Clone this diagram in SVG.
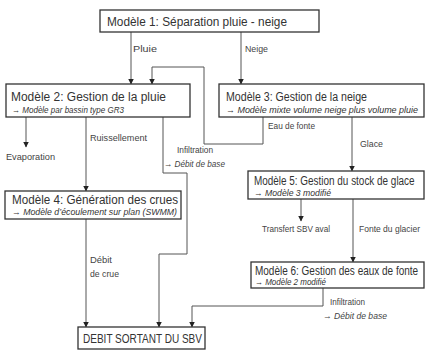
<svg xmlns="http://www.w3.org/2000/svg" width="426" height="352" viewBox="0 0 426 352">
<defs>
<style>
.box{fill:#fff;stroke:#333;stroke-width:1.3}
.t{font-family:"Liberation Sans",Arial,sans-serif;font-size:12.5px;fill:#333}
.s{font-family:"Liberation Sans",Arial,sans-serif;font-size:9px;font-style:italic;fill:#333}
.l{font-family:"Liberation Sans",Arial,sans-serif;font-size:9.5px;fill:#444}
.li{font-family:"Liberation Sans",Arial,sans-serif;font-size:9.5px;font-style:italic;fill:#444}
.c{fill:none;stroke:#555;stroke-width:1}
</style>
<marker id="a" markerUnits="userSpaceOnUse" markerWidth="6" markerHeight="6" refX="5.5" refY="3" orient="auto">
<path d="M0,0 L6,3 L0,6 z" fill="#222"/>
</marker>
</defs>
<rect width="426" height="352" fill="#fff"/>
<g id="connectors">
<path class="c" d="M131,32 V84" marker-end="url(#a)"/>
<path class="c" d="M241,32 V84" marker-end="url(#a)"/>
<path class="c" d="M26,117 V147" marker-end="url(#a)"/>
<path class="c" d="M86,117 V191" marker-end="url(#a)"/>
<path class="c" d="M163,117 V173 H187 V254 H159 V327" marker-end="url(#a)"/>
<path class="c" d="M263,117 V144 H204 V67 H152 V84" marker-end="url(#a)"/>
<path class="c" d="M352,117 V171" marker-end="url(#a)"/>
<path class="c" d="M301,199 V221" marker-end="url(#a)"/>
<path class="c" d="M353,199 V262" marker-end="url(#a)"/>
<path class="c" d="M323,288 V306 H192 V327" marker-end="url(#a)"/>
<path class="c" d="M86,219 V327" marker-end="url(#a)"/>
<text class="l" x="133" y="52" textLength="24" lengthAdjust="spacingAndGlyphs">Pluie</text>
<text class="l" x="245" y="52" textLength="23" lengthAdjust="spacingAndGlyphs">Neige</text>
<text class="l" x="6" y="160" textLength="49" lengthAdjust="spacingAndGlyphs">Evaporation</text>
<text class="l" x="90" y="141" textLength="57" lengthAdjust="spacingAndGlyphs">Ruissellement</text>
<text class="l" x="177" y="153" textLength="36" lengthAdjust="spacingAndGlyphs">Infiltration</text>
<text class="li" x="164" y="167" textLength="61" lengthAdjust="spacingAndGlyphs">→ Débit de base</text>
<text class="l" x="268" y="129" textLength="47" lengthAdjust="spacingAndGlyphs">Eau de fonte</text>
<text class="l" x="360" y="147" textLength="23" lengthAdjust="spacingAndGlyphs">Glace</text>
<text class="l" x="262" y="232" textLength="68" lengthAdjust="spacingAndGlyphs">Transfert SBV aval</text>
<text class="l" x="359" y="232" textLength="61" lengthAdjust="spacingAndGlyphs">Fonte du glacier</text>
<text class="l" x="330" y="305" textLength="35" lengthAdjust="spacingAndGlyphs">Infiltration</text>
<text class="li" x="323" y="319" textLength="64" lengthAdjust="spacingAndGlyphs">→ Débit de base</text>
<text class="l" x="90" y="263" textLength="22" lengthAdjust="spacingAndGlyphs">Débit</text>
<text class="l" x="90" y="277" textLength="29" lengthAdjust="spacingAndGlyphs">de crue</text>
</g>
<g id="m1">
<rect class="box" x="100" y="10" width="219" height="22"/>
<text class="t" x="107" y="26" textLength="180" lengthAdjust="spacingAndGlyphs">Modèle 1: Séparation pluie - neige</text>
</g>
<g id="m2">
<rect class="box" x="6" y="84" width="184" height="33"/>
<text class="t" x="11" y="101" textLength="155" lengthAdjust="spacingAndGlyphs">Modèle 2: Gestion de la pluie</text>
<text class="s" x="12" y="113" textLength="112" lengthAdjust="spacingAndGlyphs">→ Modèle par bassin type GR3</text>
</g>
<g id="m3">
<rect class="box" x="219" y="84" width="205" height="33"/>
<text class="t" x="226" y="101" textLength="141" lengthAdjust="spacingAndGlyphs">Modèle 3: Gestion de la neige</text>
<text class="s" x="226" y="113" textLength="192" lengthAdjust="spacingAndGlyphs">→ Modèle mixte volume neige plus volume pluie</text>
</g>
<g id="m4">
<rect class="box" x="5" y="191" width="176" height="28"/>
<text class="t" x="12" y="204" textLength="166" lengthAdjust="spacingAndGlyphs">Modèle 4: Génération des crues</text>
<text class="s" x="12" y="215" textLength="165" lengthAdjust="spacingAndGlyphs">→ Modèle d’écoulement sur plan (SWMM)</text>
</g>
<g id="m5">
<rect class="box" x="248" y="171" width="176" height="28"/>
<text class="t" transform="translate(254,185) scale(0.795,1)">Modèle 5: Gestion du stock de glace</text>
<text class="s" x="254" y="196" textLength="77" lengthAdjust="spacingAndGlyphs">→ Modèle 3 modifié</text>
</g>
<g id="m6">
<rect class="box" x="251" y="262" width="173" height="26"/>
<text class="t" transform="translate(255,275) scale(0.8,1)">Modèle 6: Gestion des eaux de fonte</text>
<text class="s" x="255" y="285" textLength="71" lengthAdjust="spacingAndGlyphs">→ Modèle 2 modifié</text>
</g>
<g id="out">
<rect class="box" x="78" y="327" width="127" height="22"/>
<text class="t" x="83" y="343" textLength="119" lengthAdjust="spacingAndGlyphs">DEBIT SORTANT DU SBV</text>
</g>
</svg>
